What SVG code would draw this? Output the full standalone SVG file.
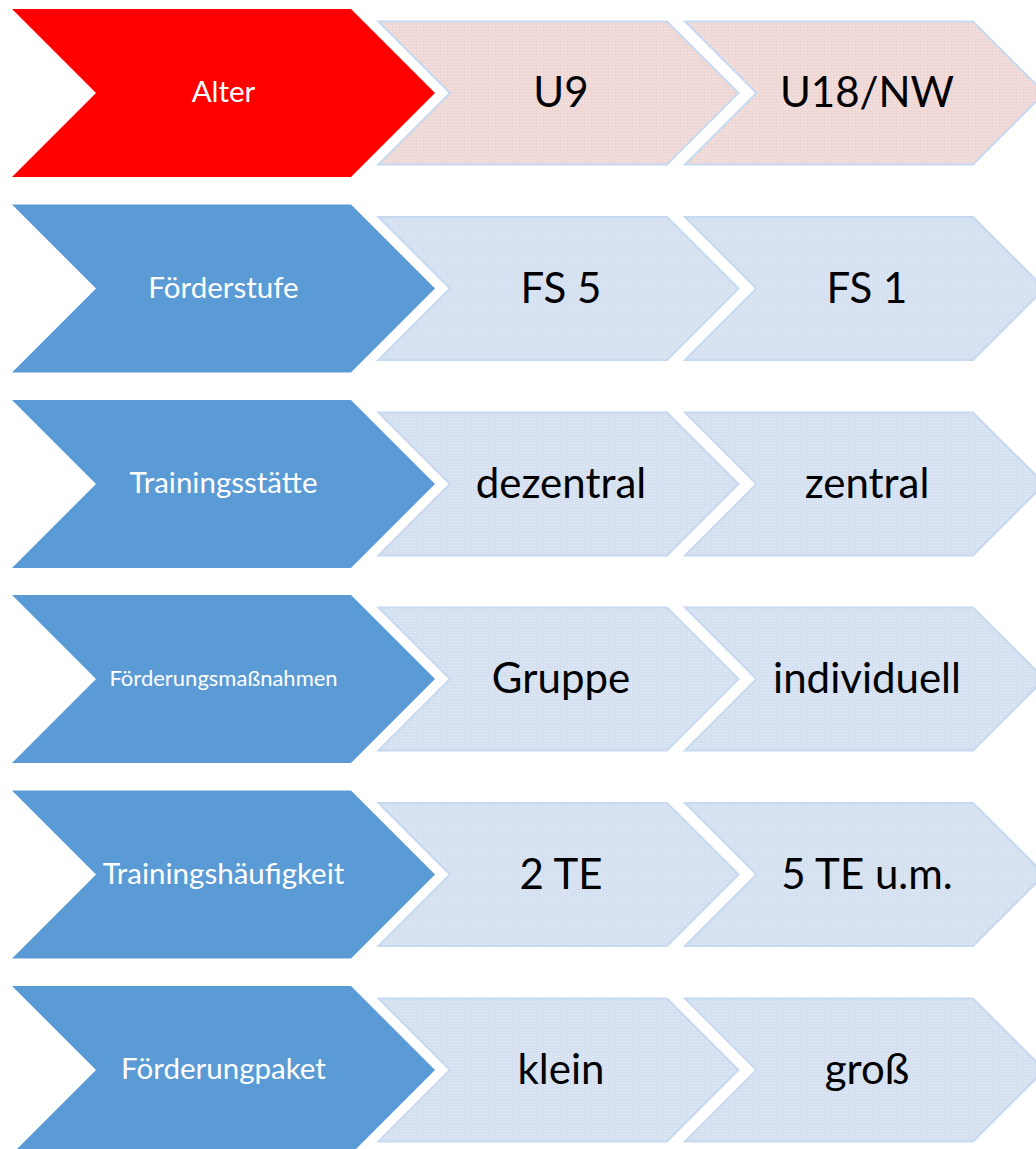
<svg xmlns="http://www.w3.org/2000/svg" width="1036" height="1149" viewBox="0 0 1036 1149">
  <style>
    .lbl { font-family: Lato, "Open Sans", "Liberation Sans", sans-serif; fill: #ffffff; font-size: 29.5px; text-anchor: middle; }
    .lbl.sm { font-size: 22px; }
    .val { font-family: Lato, "Open Sans", "Liberation Sans", sans-serif; fill: #000000; font-size: 42px; text-anchor: middle; }
    .head-red { fill: #ff0000; }
    .head-blue { fill: #5b9bd5; }
    .step { stroke: #c6d9f1; stroke-width: 2; }
    .step.pink { fill: url(#dotPink); }
    .step.blue { fill: url(#dotBlue); }
  </style>
  <defs>
    <pattern id="dotPink" width="3" height="3" patternUnits="userSpaceOnUse">
      <rect width="3" height="3" fill="#eed7d5"/>
      <rect x="1" y="1" width="1" height="1" fill="#f8eceb"/>
    </pattern>
    <pattern id="dotBlue" width="3" height="3" patternUnits="userSpaceOnUse">
      <rect width="3" height="3" fill="#d5e0f0"/>
      <rect x="1" y="1" width="1" height="1" fill="#e7eef8"/>
    </pattern>
    <polygon id="head" points="12,-84 351,-84 435,0 351,84 12,84 96,0"/>
    <polygon id="step1" points="378.5,-71.5 667,-71.5 738.5,0 667,71.5 378.5,71.5 450,0"/>
    <polygon id="step2" points="685,-71.5 973,-71.5 1044.5,0 973,71.5 685,71.5 756.5,0"/>
  </defs>

  <g id="connectors"></g>

  <!-- Row 1 -->
  <g id="row1" transform="translate(0,93)">
    <g id="row1-head"><use href="#head" class="head-red"/><text class="lbl" x="223.5" y="9">Alter</text></g>
    <g id="row1-a"><use href="#step1" class="step pink"/><text class="val" x="561" y="14">U9</text></g>
    <g id="row1-b"><use href="#step2" class="step pink"/><text class="val" x="867" y="14">U18/NW</text></g>
  </g>

  <!-- Row 2 -->
  <g id="row2" transform="translate(0,288.5)">
    <g id="row2-head"><use href="#head" class="head-blue"/><text class="lbl" x="223.5" y="9">Förderstufe</text></g>
    <g id="row2-a"><use href="#step1" class="step blue"/><text class="val" x="561" y="14">FS 5</text></g>
    <g id="row2-b"><use href="#step2" class="step blue"/><text class="val" x="867" y="14">FS 1</text></g>
  </g>

  <!-- Row 3 -->
  <g id="row3" transform="translate(0,484)">
    <g id="row3-head"><use href="#head" class="head-blue"/><text class="lbl" x="223.5" y="9">Trainingsstätte</text></g>
    <g id="row3-a"><use href="#step1" class="step blue"/><text class="val" x="561" y="14">dezentral</text></g>
    <g id="row3-b"><use href="#step2" class="step blue"/><text class="val" x="867" y="14">zentral</text></g>
  </g>

  <!-- Row 4 -->
  <g id="row4" transform="translate(0,679)">
    <g id="row4-head"><use href="#head" class="head-blue"/><text class="lbl sm" x="223.5" y="7">Förderungsmaßnahmen</text></g>
    <g id="row4-a"><use href="#step1" class="step blue"/><text class="val" x="561" y="14">Gruppe</text></g>
    <g id="row4-b"><use href="#step2" class="step blue"/><text class="val" x="867" y="14">individuell</text></g>
  </g>

  <!-- Row 5 -->
  <g id="row5" transform="translate(0,874.5)">
    <g id="row5-head"><use href="#head" class="head-blue"/><text class="lbl" x="223.5" y="9">Trainingshäufigkeit</text></g>
    <g id="row5-a"><use href="#step1" class="step blue"/><text class="val" x="561" y="14">2 TE</text></g>
    <g id="row5-b"><use href="#step2" class="step blue"/><text class="val" x="867" y="14">5 TE u.m.</text></g>
  </g>

  <!-- Row 6 -->
  <g id="row6" transform="translate(0,1070)">
    <g id="row6-head"><use href="#head" class="head-blue"/><text class="lbl" x="223.5" y="9">Förderungpaket</text></g>
    <g id="row6-a"><use href="#step1" class="step blue"/><text class="val" x="561" y="14">klein</text></g>
    <g id="row6-b"><use href="#step2" class="step blue"/><text class="val" x="867" y="14">groß</text></g>
  </g>
</svg>
